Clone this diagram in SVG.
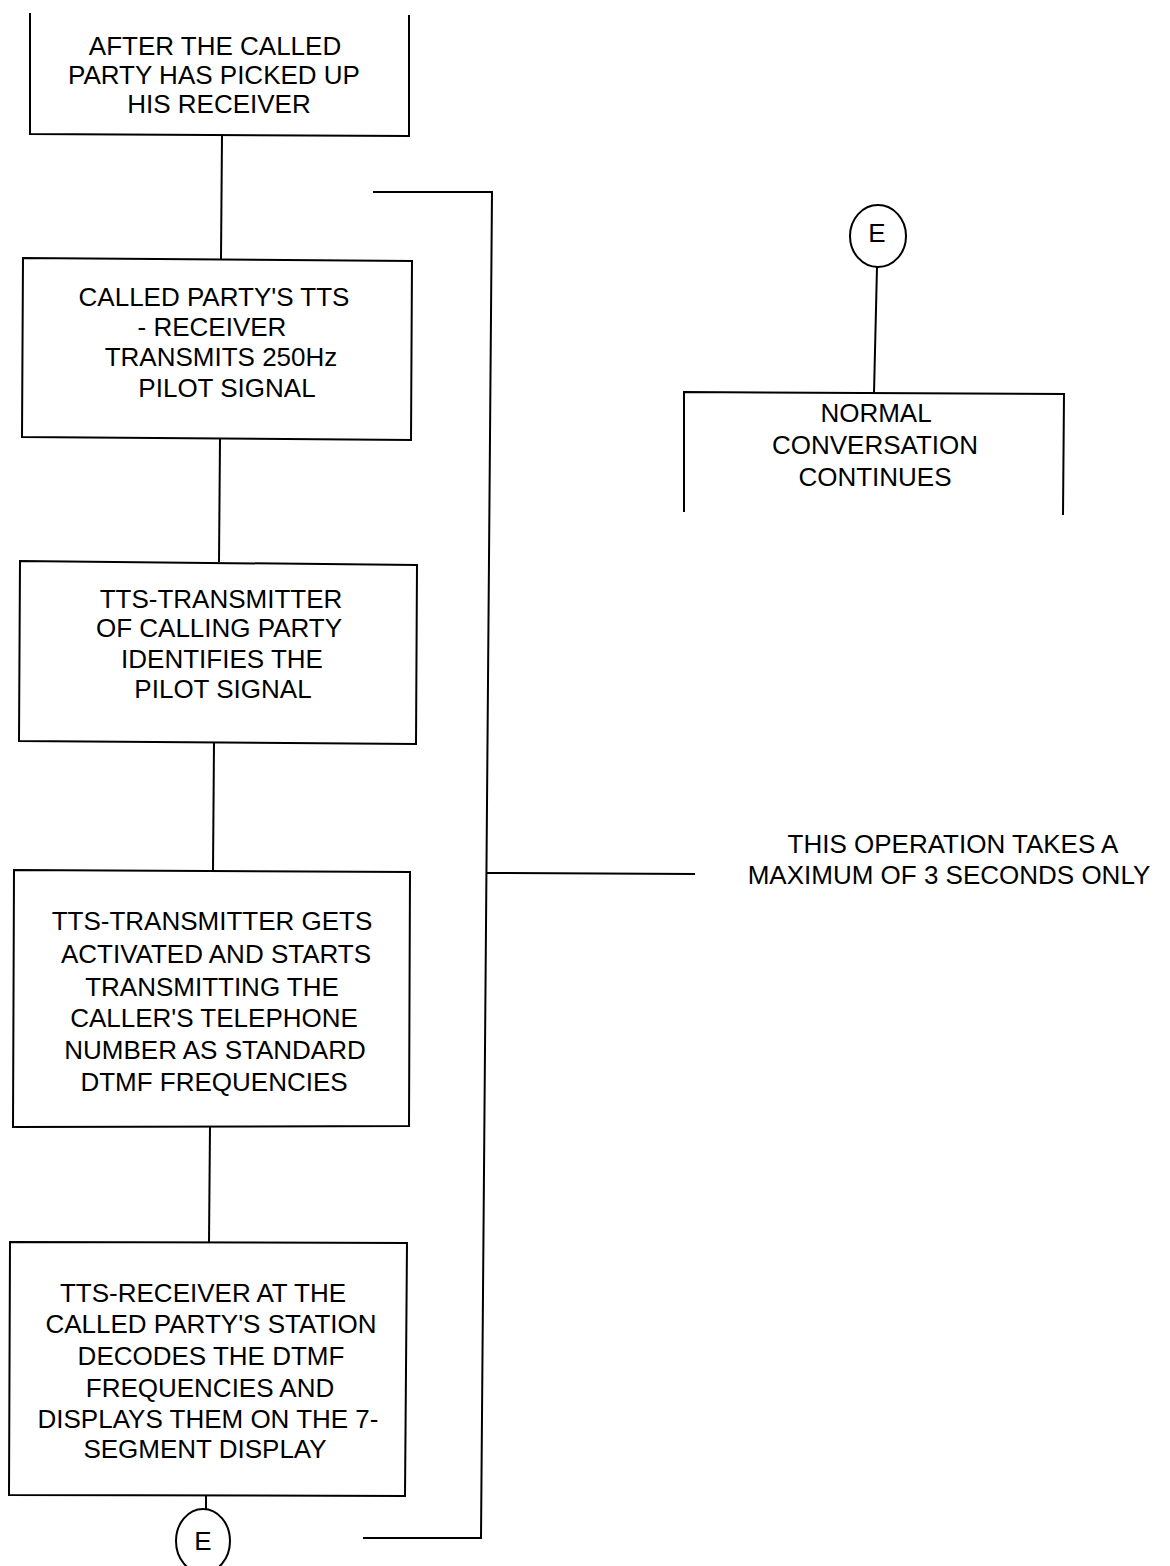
<svg xmlns="http://www.w3.org/2000/svg" width="1170" height="1566" viewBox="0 0 1170 1566">
  <style>
    .ln { fill: none; stroke: #000; stroke-width: 2; stroke-linejoin: miter; }
    .tx { font-family: "Liberation Sans", Arial, sans-serif; font-size: 26px; fill: #000; text-anchor: middle; }
  </style>
  <rect x="0" y="0" width="1170" height="1566" fill="#fff"/>

  <!-- flow connectors and the timing bracket -->
  <g id="connectors">
    <line class="ln" x1="222" y1="135" x2="221" y2="259"/>
    <line class="ln" x1="220" y1="439" x2="219" y2="562"/>
    <line class="ln" x1="214" y1="743" x2="213" y2="871"/>
    <line class="ln" x1="210" y1="1126" x2="209" y2="1242"/>
    <line class="ln" x1="206" y1="1496" x2="206" y2="1509"/>
    <line class="ln" x1="877" y1="267" x2="874" y2="393"/>
    <path id="bracket" class="ln" d="M373,192 L492,192 L481,1538 L363,1538"/>
    <line id="bracket-tick" class="ln" x1="487" y1="873" x2="695" y2="874"/>
  </g>

  <!-- step 1 -->
  <g id="step-pickup">
    <path class="ln" d="M30,13 L30,134 L409,136 L409,15"/>
    <text class="tx" x="215" y="55">AFTER THE CALLED</text>
    <text class="tx" x="214" y="84">PARTY HAS PICKED UP</text>
    <text class="tx" x="219" y="113">HIS RECEIVER</text>
  </g>

  <!-- step 2 -->
  <g id="step-pilot-tx">
    <polygon class="ln" points="23,258 412,261 411,440 22,437"/>
    <text class="tx" x="214" y="306">CALLED PARTY'S TTS</text>
    <text class="tx" x="212" y="336">- RECEIVER</text>
    <text class="tx" x="221" y="366">TRANSMITS 250Hz</text>
    <text class="tx" x="227" y="397">PILOT SIGNAL</text>
  </g>

  <!-- step 3 -->
  <g id="step-pilot-id">
    <polygon class="ln" points="20,561 417,565 416,744 19,741"/>
    <text class="tx" x="221" y="608">TTS-TRANSMITTER</text>
    <text class="tx" x="219" y="637">OF CALLING PARTY</text>
    <text class="tx" x="222" y="668">IDENTIFIES THE</text>
    <text class="tx" x="223" y="698">PILOT SIGNAL</text>
  </g>

  <!-- step 4 -->
  <g id="step-dtmf-tx">
    <polygon class="ln" points="14,870 410,872 409,1126 13,1127"/>
    <text class="tx" x="212" y="930">TTS-TRANSMITTER GETS</text>
    <text class="tx" x="216" y="963">ACTIVATED AND STARTS</text>
    <text class="tx" x="212" y="996">TRANSMITTING THE</text>
    <text class="tx" x="214" y="1027">CALLER'S TELEPHONE</text>
    <text class="tx" x="215" y="1059">NUMBER AS STANDARD</text>
    <text class="tx" x="214" y="1091">DTMF FREQUENCIES</text>
  </g>

  <!-- step 5 -->
  <g id="step-decode">
    <polygon class="ln" points="10,1242 407,1243 405,1496 9,1495"/>
    <text class="tx" x="203" y="1302">TTS-RECEIVER AT THE</text>
    <text class="tx" x="211" y="1333">CALLED PARTY'S STATION</text>
    <text class="tx" x="211" y="1365">DECODES THE DTMF</text>
    <text class="tx" x="210" y="1397">FREQUENCIES AND</text>
    <text class="tx" x="208" y="1428">DISPLAYS THEM ON THE 7-</text>
    <text class="tx" x="205" y="1458">SEGMENT DISPLAY</text>
  </g>

  <!-- off-page connector E (exit) -->
  <g id="connector-e-out">
    <ellipse class="ln" cx="203" cy="1541" rx="27" ry="32"/>
    <text class="tx" x="203" y="1550">E</text>
  </g>

  <!-- off-page connector E (entry) -->
  <g id="connector-e-in">
    <ellipse class="ln" cx="878" cy="236" rx="28" ry="31"/>
    <text class="tx" x="877" y="242">E</text>
  </g>

  <!-- continuation step -->
  <g id="step-conversation">
    <path class="ln" d="M684,512 L684,392 L1064,394 L1063,515"/>
    <text class="tx" x="876" y="422">NORMAL</text>
    <text class="tx" x="875" y="454">CONVERSATION</text>
    <text class="tx" x="875" y="486">CONTINUES</text>
  </g>

  <!-- bracket annotation -->
  <g id="note-timing">
    <text class="tx" x="953" y="853">THIS OPERATION TAKES A</text>
    <text class="tx" x="949" y="884">MAXIMUM OF 3 SECONDS ONLY</text>
  </g>
</svg>
